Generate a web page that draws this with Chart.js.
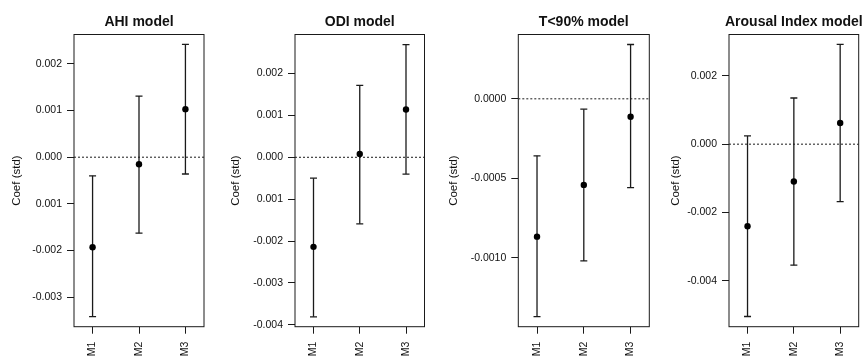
<!DOCTYPE html>
<html>
<head>
<meta charset="utf-8">
<title>Coef (std) por modelo</title>
<script src="https://cdn.jsdelivr.net/npm/chart.js@4.4.1/dist/chart.umd.min.js"></script>
<style>
    body { margin: 0; background: #fff; }
    #painel { position: relative; width: 864px; height: 356px; overflow: hidden; }
    #painel canvas { position: absolute; left: 0; top: 0; pointer-events: none; }
</style>
</head>
<body>
<div id="painel">
    <canvas id="grafico1" width="864" height="356"></canvas>
    <canvas id="grafico2" width="864" height="356"></canvas>
    <canvas id="grafico3" width="864" height="356"></canvas>
    <canvas id="grafico4" width="864" height="356"></canvas>
</div>
<script>
// modelos no eixo x
const modelos = ['M1', 'M2', 'M3'];
const modeloX = [1, 2, 3];
const xLimites = [0.6, 3.4];

// AHI model
const ahiCoef = [-0.00193, -0.00015, 0.00103];
const ahiInf = [-0.00342, -0.00163, -0.00036];
const ahiSup = [-0.00040, 0.00131, 0.00242];
const ahiTicks = [-0.003, -0.002, -0.001, 0, 0.001, 0.002];
const ahiTickLabels = ['-0.003', '-0.002', '0.001', '0.000', '0.001', '0.002'];
const ahiLimites = [-0.003635, 0.002631];

// ODI model
const odiCoef = [-0.00214, 0.00008, 0.00114];
const odiInf = [-0.00381, -0.00159, -0.00040];
const odiSup = [-0.00050, 0.00172, 0.00269];
const odiTicks = [-0.004, -0.003, -0.002, -0.001, 0, 0.001, 0.002];
const odiTickLabels = ['-0.004', '-0.003', '-0.002', '0.001', '0.000', '0.001', '0.002'];
const odiLimites = [-0.004047, 0.002933];

// T<90% model
const t90Coef = [-0.000868, -0.000542, -0.000113];
const t90Inf = [-0.001372, -0.001021, -0.000559];
const t90Sup = [-0.000359, -0.000065, 0.000342];
const t90Ticks = [-0.001, -0.0005, 0];
const t90TickLabels = ['-0.0010', '-0.0005', '0.0000'];
const t90Limites = [-0.001435, 0.000405];

// Arousal Index model
const arCoef = [-0.00240, -0.00109, 0.00062];
const arInf = [-0.00504, -0.00354, -0.00168];
const arSup = [0.00024, 0.00135, 0.00292];
const arTicks = [-0.004, -0.002, 0, 0.002];
const arTickLabels = ['-0.004', '-0.002', '0.000', '0.002'];
const arLimites = [-0.005338, 0.003207];

const fonte = '"Liberation Sans", Arial, sans-serif';
const corLinha = '#1a1a1a';
const corTexto = '#111';

// moldura do grafico + titulo
const moldura = {
    id: 'moldura',
    afterDraw(chart, args, opts) {
        const ctx = chart.ctx;
        const a = chart.chartArea;
        ctx.save();
        ctx.strokeStyle = corLinha;
        ctx.lineWidth = 1;
        ctx.strokeRect(a.left, a.top, a.right - a.left, a.bottom - a.top);
        ctx.fillStyle = corTexto;
        ctx.font = 'bold 14px ' + fonte;
        ctx.textAlign = 'center';
        ctx.textBaseline = 'alphabetic';
        ctx.fillText(opts.titulo, (a.left + a.right) / 2, 26);
        ctx.restore();
    }
};

function criarPainel(canvasId, titulo, coef, inf, sup, ticks, tickLabels, limites, pos) {
    const datasets = [];

    // linha pontilhada no zero
    datasets.push({
        data: [{ x: xLimites[0], y: 0 }, { x: xLimites[1], y: 0 }],
        showLine: true,
        borderColor: corLinha,
        borderWidth: 1,
        borderDash: [2, 2],
        pointRadius: 0,
        order: 3
    });

    // barras de erro
    modeloX.forEach((x, i) => {
        datasets.push({
            data: [{ x: x, y: inf[i] }, { x: x, y: sup[i] }],
            showLine: true,
            borderColor: corLinha,
            borderWidth: 1.3,
            pointStyle: 'line',
            pointRadius: 3.5,
            pointBorderWidth: 1.3,
            pointBorderColor: corLinha,
            order: 2
        });
    });

    // coeficientes
    datasets.push({
        data: modeloX.map((x, i) => ({ x: x, y: coef[i] })),
        showLine: false,
        pointRadius: 3.2,
        pointBackgroundColor: '#000',
        pointBorderColor: '#000',
        pointBorderWidth: 0,
        order: 1
    });

    new Chart(document.getElementById(canvasId), {
        type: 'scatter',
        data: { datasets: datasets },
        options: {
            responsive: false,
            animation: false,
            devicePixelRatio: 1,
            events: [],
            layout: {
                padding: { left: pos.padEsq, right: 864 - pos.dir, top: 34.5, bottom: 0 }
            },
            plugins: {
                legend: { display: false },
                tooltip: { enabled: false },
                moldura: { titulo: titulo }
            },
            scales: {
                x: {
                    type: 'linear',
                    min: xLimites[0],
                    max: xLimites[1],
                    afterBuildTicks: s => { s.ticks = modeloX.map(v => ({ value: v })); },
                    afterFit: s => { s.height = 29.3; },
                    ticks: {
                        autoSkip: false,
                        minRotation: 90,
                        maxRotation: 90,
                        padding: 8,
                        color: corTexto,
                        font: { family: fonte, size: 10.5 },
                        callback: (v, i) => modelos[i]
                    },
                    grid: { drawOnChartArea: false, drawTicks: true, tickLength: 7, color: corLinha },
                    border: { display: false }
                },
                y: {
                    min: limites[0],
                    max: limites[1],
                    afterBuildTicks: s => { s.ticks = ticks.map(v => ({ value: v })); },
                    afterFit: s => { s.width = pos.esq - pos.padEsq; },
                    ticks: {
                        padding: 5,
                        color: corTexto,
                        font: { family: fonte, size: 10.5 },
                        callback: (v, i) => tickLabels[i]
                    },
                    title: {
                        display: true,
                        text: 'Coef (std)',
                        color: corTexto,
                        font: { family: fonte, size: 11.5 },
                        padding: { top: 0, bottom: 0 }
                    },
                    grid: { drawOnChartArea: false, drawTicks: true, tickLength: 7, color: corLinha },
                    border: { display: false }
                }
            }
        },
        plugins: [moldura]
    });
}

function inicializarGraficos() {
    criarPainel('grafico1', 'AHI model', ahiCoef, ahiInf, ahiSup, ahiTicks, ahiTickLabels, ahiLimites,
        { padEsq: 10.4, esq: 74, dir: 204 });
    criarPainel('grafico2', 'ODI model', odiCoef, odiInf, odiSup, odiTicks, odiTickLabels, odiLimites,
        { padEsq: 228.6, esq: 295, dir: 424.5 });
    criarPainel('grafico3', 'T<90% model', t90Coef, t90Inf, t90Sup, t90Ticks, t90TickLabels, t90Limites,
        { padEsq: 446.8, esq: 518.3, dir: 649.3 });
    criarPainel('grafico4', 'Arousal Index model', arCoef, arInf, arSup, arTicks, arTickLabels, arLimites,
        { padEsq: 669.4, esq: 729, dir: 860 });
}

inicializarGraficos();
</script>
</body>
</html>
